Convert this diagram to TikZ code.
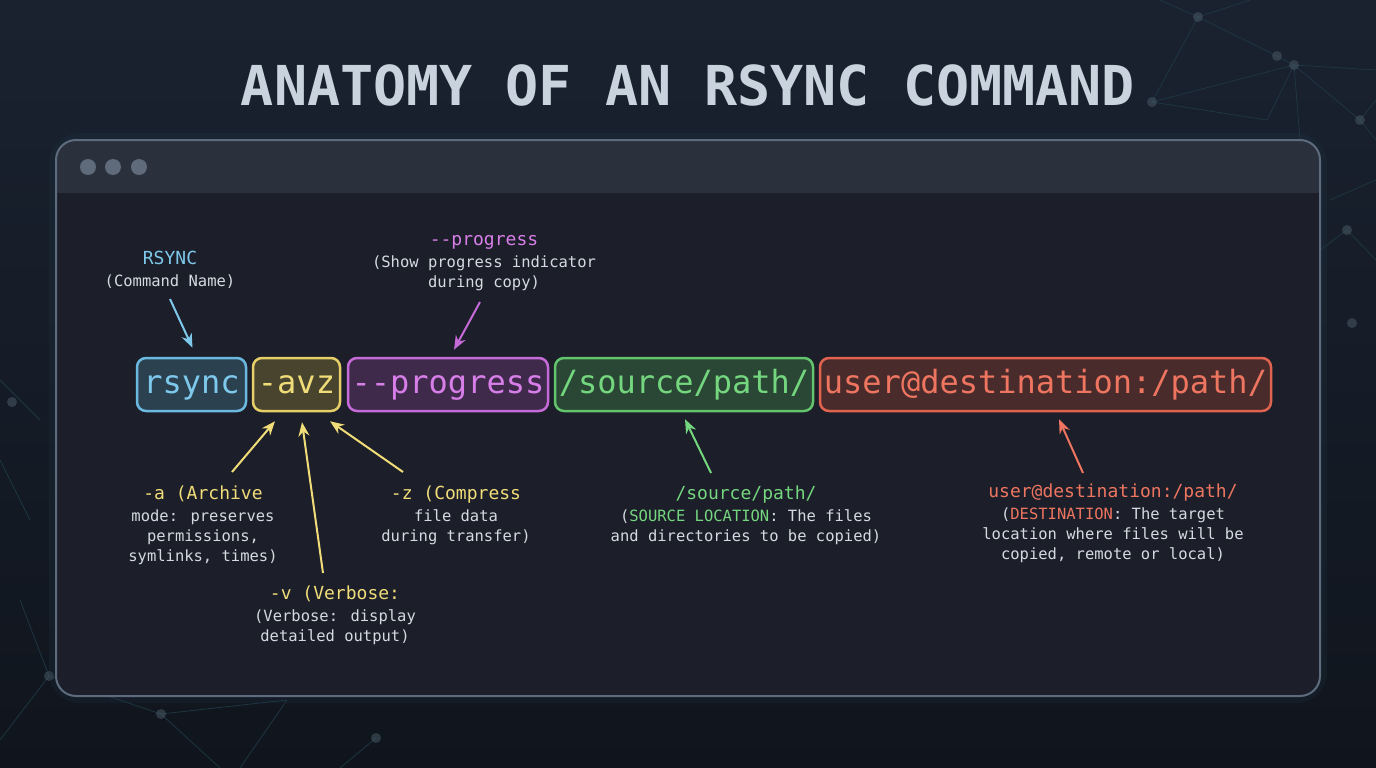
\documentclass[tikz,border=0pt]{standalone}
\usepackage{fontspec}
\setmainfont{DejaVu Sans Mono}
\usetikzlibrary{arrows.meta,calc}
\definecolor{bgtop}{HTML}{1A2230}
\definecolor{bgbot}{HTML}{10151D}
\definecolor{winbody}{HTML}{1C1F29}
\definecolor{winbar}{HTML}{2A313D}
\definecolor{winborder}{HTML}{5D6B7D}
\definecolor{dotc}{HTML}{5F6B7A}
\definecolor{titlec}{HTML}{C8D3DE}
\definecolor{txt}{HTML}{D5DAE0}
\definecolor{net}{HTML}{1E3542}
\definecolor{cyanT}{HTML}{7EC8EC}\definecolor{cyanB}{HTML}{6BB8E0}\definecolor{cyanF}{HTML}{2B4150}
\definecolor{yelT}{HTML}{F0DC78}\definecolor{yelB}{HTML}{E6CF68}\definecolor{yelF}{HTML}{48442E}
\definecolor{purT}{HTML}{D77EE8}\definecolor{purB}{HTML}{C56AD8}\definecolor{purF}{HTML}{3F2A4C}
\definecolor{grnT}{HTML}{74D67E}\definecolor{grnB}{HTML}{62C46C}\definecolor{grnF}{HTML}{2A4634}
\definecolor{redT}{HTML}{EE7560}\definecolor{redB}{HTML}{E0634F}\definecolor{redF}{HTML}{4A2B2B}
\tikzset{
  cmdbox/.style={draw, line width=2.5pt, rounded corners=9pt, minimum height=53pt,
    inner sep=0pt, font=\fontsize{32}{32}\selectfont, text height=23pt, text depth=6pt},
  arr/.style={-{Stealth[length=14pt,width=11pt]}, line width=2pt},
  lab/.style={align=center, inner sep=0pt, text=txt, font=\fontsize{15.5}{20}\selectfont, anchor=north},
  netl/.style={draw=net, line width=0.8pt},
}
\newcommand{\hd}[2]{\textcolor{#1}{\fontsize{18}{20}\selectfont #2}}
\begin{document}
\begin{tikzpicture}[x=1pt,y=-1pt]
\useasboundingbox (0,0) rectangle (1376,768);
\shade[top color=bgtop, bottom color=bgbot] (0,0) rectangle (1376,768);
% background network
\begin{scope}[netl]
\draw (1198,17) -- (1277,56) -- (1294,65) -- (1360,120) -- (1376,140);
\draw (1198,17) -- (1152,102) -- (1294,65) -- (1376,70);
\draw (1152,102) -- (1267,120) -- (1294,65);
\draw (1294,65) -- (1300,140);
\draw (1360,120) -- (1376,100);
\draw (1198,17) -- (1160,0); \draw (1198,17) -- (1250,0);
\draw (1330,200) -- (1376,180); \draw (1347,230) -- (1376,260); \draw (1347,230) -- (1320,250);
\draw (49,676) -- (161,714) -- (287,700); \draw (161,714) -- (220,768);
\draw (49,676) -- (0,740); \draw (49,676) -- (20,600);
\draw (376,738) -- (340,768); \draw (287,700) -- (240,768);
\draw (0,380) -- (40,420); \draw (0,460) -- (30,520);
\end{scope}
\foreach \p in {(1198,17),(1277,56),(1294,65),(1152,102),(1360,120),(1347,230),(1352,323),(49,676),(161,714),(376,738),(12,402)}
  \fill[net!80!white, opacity=0.5] \p circle (5pt);
% window glow
\draw[line width=14pt, color=net, opacity=0.25, rounded corners=24pt] (56,140) rectangle (1320,696);
% window
\fill[winbody, rounded corners=20pt] (56,140) rectangle (1320,696);
\begin{scope}
\clip[rounded corners=20pt] (56,140) rectangle (1320,696);
\fill[winbar] (56,140) rectangle (1320,193);
\end{scope}
\draw[winborder, line width=2pt, rounded corners=20pt] (56,140) rectangle (1320,696);
\foreach \x in {88,113,139} \fill[dotc] (\x,167) circle (8pt);
% title
\node[text=titlec, font=\fontsize{55}{55}\selectfont\bfseries] (title) at (688,85) {ANATOMY OF AN RSYNC COMMAND};
% command boxes
\node[cmdbox, draw=cyanB, fill=cyanF, text=cyanT, minimum width=109pt] (rsync) at (191.5,384.5) {rsync};
\node[cmdbox, draw=yelB, fill=yelF, text=yelT, minimum width=87pt] (avz) at (296.5,384.5) {-avz};
\node[cmdbox, draw=purB, fill=purF, text=purT, minimum width=200pt] (prog) at (448,384.5) {-{}-progress};
\node[cmdbox, draw=grnB, fill=grnF, text=grnT, minimum width=258pt] (src) at (684,384.5) {/source/path/};
\node[cmdbox, draw=redB, fill=redF, text=redT, minimum width=451pt] (dst) at (1045.5,384.5) {user@destination:/path/};
% labels
\node[lab] (lrsync) at (170,251) {\hd{cyanT}{RSYNC}\\[2pt](Command Name)};
\node[lab] (lprog) at (484,235) {\hd{purT}{-{}-progress}\\[2pt](Show progress indicator\\during copy)};
\node[lab] (larch) at (203,486) {\hd{yelT}{-a (Archive}\\[2pt]mode: preserves\\permissions,\\symlinks, times)};
\node[lab] (lcomp) at (456,486) {\hd{yelT}{-z (Compress}\\[2pt]file data\\during transfer)};
\node[lab] (lverb) at (335,586) {\hd{yelT}{-v (Verbose:}\\[2pt](Verbose: display\\detailed output)};
\node[lab] (lsrc) at (746,486) {\hd{grnT}{/source/path/}\\[2pt](\textcolor{grnT}{SOURCE LOCATION}: The files\\and directories to be copied)};
\node[lab] (ldst) at (1113,484) {\hd{redT}{user@destination:/path/}\\[2pt](\textcolor{redT}{DESTINATION}: The target\\location where files will be\\copied, remote or local)};
% arrow start points
\coordinate (s1) at (170,299);
\coordinate (s2) at (480,302);
\coordinate (s3) at (232,472);
\coordinate (s4) at (403,472);
\coordinate (s5) at (323,573);
\coordinate (s6) at (711,473);
\coordinate (s7) at (1083,473);
% connectors
\draw[arr, cyanT] (s1) -- ($(rsync.north)+(1,-9)$);
\draw[arr, purB] (s2) -- ($(prog.north)+(6,-7)$);
\draw[arr, yelT] (s3) -- ($(avz.south)+(-21.5,9)$);
\draw[arr, yelT] (s4) -- ($(avz.south)+(33.5,9)$);
\draw[arr, yelT] (s5) -- ($(avz.south)+(5.5,10)$);
\draw[arr, grnT] (s6) -- ($(src.south)+(1,7)$);
\draw[arr, redT] (s7) -- ($(dst.south)+(13.5,7)$);
\end{tikzpicture}
\end{document}
